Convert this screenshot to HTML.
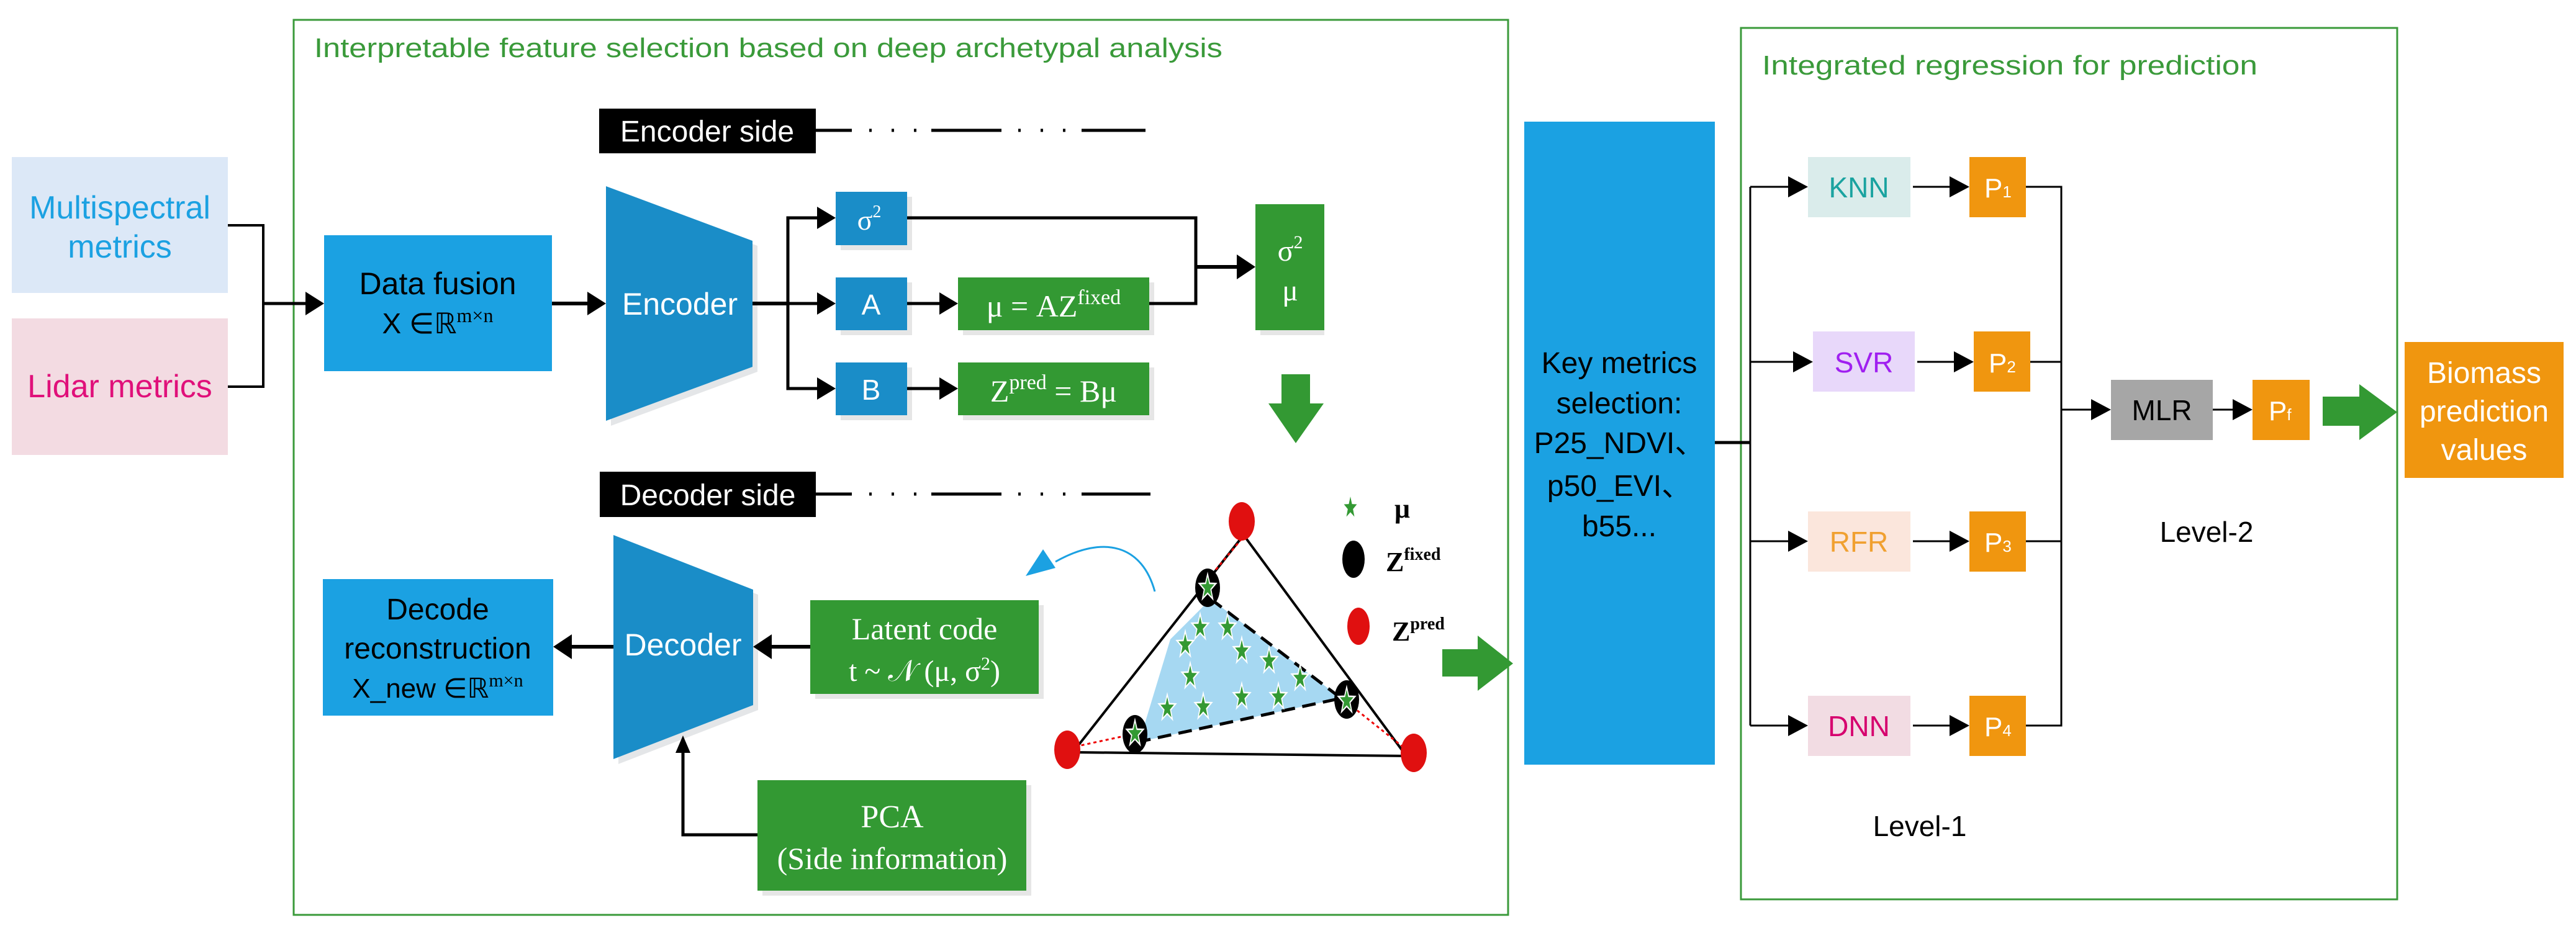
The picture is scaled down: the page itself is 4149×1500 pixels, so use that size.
<!DOCTYPE html>
<html><head><meta charset="utf-8"><style>
html,body{margin:0;padding:0;background:#fff;}
svg{display:block;}
text{font-family:"Liberation Sans","DejaVu Sans",sans-serif;}
.s{font-family:"Liberation Serif",serif;}
</style></head><body>
<svg width="4149" height="1500" viewBox="0 0 4149 1500" xmlns="http://www.w3.org/2000/svg">
<!-- frames -->
<rect x="473" y="32" width="1956" height="1442" fill="none" stroke="#3a9a3a" stroke-width="3"/>
<rect x="2804" y="45" width="1057" height="1404" fill="none" stroke="#3a9a3a" stroke-width="3"/>
<text x="506" y="92" font-size="44" fill="#3a9a3a" textLength="1463" lengthAdjust="spacingAndGlyphs">Interpretable feature selection based on deep archetypal analysis</text>
<text x="2838" y="120" font-size="44" fill="#3a9a3a" textLength="798" lengthAdjust="spacingAndGlyphs">Integrated regression for prediction</text>

<!-- inputs -->
<rect x="19" y="253" width="348" height="219" fill="#dce8f7"/>
<text x="193" y="352" font-size="52" fill="#1ba1e2" text-anchor="middle">Multispectral</text>
<text x="193" y="415" font-size="52" fill="#1ba1e2" text-anchor="middle">metrics</text>
<rect x="19" y="513" width="348" height="220" fill="#f3dbe2"/>
<text x="193" y="640" font-size="52" fill="#e0107a" text-anchor="middle">Lidar metrics</text>
<polyline points="367,363 424,363 424,623 367,623" fill="none" stroke="#000" stroke-width="4"/>
<line x1="424" y1="489" x2="495" y2="489" stroke="#000" stroke-width="5"/>
<polygon points="492,470 522,489 492,508" fill="#000"/>

<!-- data fusion -->
<rect x="522" y="379" width="367" height="219" fill="#1ba1e2"/>
<text x="705" y="474" font-size="50" fill="#000" text-anchor="middle">Data fusion</text>
<text x="705" y="537" font-size="46" fill="#000" text-anchor="middle">X ∈ℝ<tspan font-size="32" dy="-18" class="s">m×n</tspan></text>
<line x1="889" y1="489" x2="950" y2="489" stroke="#000" stroke-width="6"/>
<polygon points="946,470 976,489 946,508" fill="#000"/>

<!-- encoder -->
<polygon points="984,308 1220,396 1220,599 984,686" fill="#e4e6e8"/>
<polygon points="976,300 1212,388 1212,591 976,678" fill="#1a8dc8"/>
<text x="1095" y="507" font-size="50" fill="#fff" text-anchor="middle">Encoder</text>
<line x1="1212" y1="489" x2="1269" y2="489" stroke="#000" stroke-width="6"/>
<polyline points="1320,351 1269,351 1269,626 1320,626" fill="none" stroke="#000" stroke-width="5"/>
<line x1="1269" y1="489" x2="1320" y2="489" stroke="#000" stroke-width="5"/>
<polygon points="1316,333 1346,351 1316,369" fill="#000"/>
<polygon points="1316,471 1346,489 1316,507" fill="#000"/>
<polygon points="1316,608 1346,626 1316,644" fill="#000"/>
<rect x="1354" y="317" width="115" height="86" fill="#e6e6e6"/>
<rect x="1346" y="309" width="115" height="86" fill="#1a8dc8"/>
<text x="1400" y="370" font-size="46" fill="#fff" text-anchor="middle" class="s">σ<tspan font-size="28" dy="-20">2</tspan></text>
<rect x="1354" y="455" width="115" height="85" fill="#e6e6e6"/>
<rect x="1346" y="447" width="115" height="85" fill="#1a8dc8"/>
<text x="1403" y="507" font-size="46" fill="#fff" text-anchor="middle">A</text>
<rect x="1354" y="592" width="115" height="85" fill="#e6e6e6"/>
<rect x="1346" y="584" width="115" height="85" fill="#1a8dc8"/>
<text x="1403" y="644" font-size="46" fill="#fff" text-anchor="middle">B</text>
<line x1="1461" y1="489" x2="1515" y2="489" stroke="#000" stroke-width="5"/>
<polygon points="1513,471 1543,489 1513,507" fill="#000"/>
<line x1="1461" y1="626" x2="1515" y2="626" stroke="#000" stroke-width="5"/>
<polygon points="1513,608 1543,626 1513,644" fill="#000"/>
<rect x="1551" y="455" width="308" height="85" fill="#e6e6e6"/>
<rect x="1543" y="447" width="308" height="85" fill="#339933"/>
<text x="1697" y="510" font-size="50" fill="#fff" text-anchor="middle" class="s">μ = AZ<tspan font-size="34" dy="-20">fixed</tspan></text>
<rect x="1551" y="592" width="308" height="85" fill="#e6e6e6"/>
<rect x="1543" y="584" width="308" height="85" fill="#339933"/>
<text x="1697" y="647" font-size="50" fill="#fff" text-anchor="middle" class="s">Z<tspan font-size="34" dy="-20">pred</tspan><tspan dy="20"> = Bμ</tspan></text>
<polyline points="1461,351 1926,351 1926,489 1851,489" fill="none" stroke="#000" stroke-width="5"/>
<line x1="1926" y1="430" x2="1995" y2="430" stroke="#000" stroke-width="6"/>
<polygon points="1992,410 2022,430 1992,450" fill="#000"/>
<rect x="2030" y="337" width="103" height="203" fill="#e6e6e6"/>
<rect x="2022" y="329" width="111" height="203" fill="#339933"/>
<text x="2078" y="420" font-size="48" fill="#fff" text-anchor="middle" class="s">σ<tspan font-size="30" dy="-20">2</tspan></text>
<text x="2078" y="484" font-size="48" fill="#fff" text-anchor="middle" class="s">μ</text>
<polygon points="2064,603 2110,603 2110,650 2132,650 2087,714 2043,650 2064,650" fill="#339933"/>

<!-- encoder side label -->
<rect x="965" y="175" width="349" height="72" fill="#000"/>
<text x="1139" y="228" font-size="48" fill="#fff" text-anchor="middle">Encoder side</text>
<g stroke="#000" stroke-width="5">
<line x1="1314" y1="210" x2="1372" y2="210"/>
<line x1="1500" y1="210" x2="1613" y2="210"/>
<line x1="1742" y1="210" x2="1845" y2="210"/>
</g>
<g stroke="#000" stroke-width="5" stroke-dasharray="4,32"><line x1="1400" y1="210" x2="1480" y2="210"/><line x1="1640" y1="210" x2="1720" y2="210"/></g>

<!-- decoder side label -->
<rect x="966" y="760" width="348" height="73" fill="#000"/>
<text x="1140" y="814" font-size="48" fill="#fff" text-anchor="middle">Decoder side</text>
<g stroke="#000" stroke-width="5">
<line x1="1314" y1="796" x2="1372" y2="796"/>
<line x1="1500" y1="796" x2="1613" y2="796"/>
<line x1="1742" y1="796" x2="1853" y2="796"/>
</g>
<g stroke="#000" stroke-width="5" stroke-dasharray="4,32"><line x1="1400" y1="796" x2="1480" y2="796"/><line x1="1640" y1="796" x2="1720" y2="796"/></g>

<!-- decoder -->
<polygon points="996,870 1221,958 1221,1144 996,1231" fill="#e4e6e8"/>
<polygon points="988,862 1213,950 1213,1136 988,1223" fill="#1a8dc8"/>
<text x="1100" y="1056" font-size="50" fill="#fff" text-anchor="middle">Decoder</text>
<rect x="520" y="933" width="371" height="220" fill="#1ba1e2"/>
<text x="705" y="998" font-size="48" fill="#000" text-anchor="middle">Decode</text>
<text x="705" y="1061" font-size="48" fill="#000" text-anchor="middle">reconstruction</text>
<text x="705" y="1124" font-size="44" fill="#000" text-anchor="middle">X_new ∈ℝ<tspan font-size="30" dy="-18" class="s">m×n</tspan></text>
<line x1="988" y1="1042" x2="918" y2="1042" stroke="#000" stroke-width="6"/>
<polygon points="921,1022 891,1042 921,1062" fill="#000"/>
<rect x="1313" y="975" width="368" height="151" fill="#e6e6e6"/>
<rect x="1305" y="967" width="368" height="151" fill="#339933"/>
<text x="1489" y="1030" font-size="50" fill="#fff" text-anchor="middle" class="s">Latent code</text>
<text x="1489" y="1097" font-size="48" fill="#fff" text-anchor="middle" class="s">t ~ 𝒩 (μ, σ<tspan font-size="30" dy="-18">2</tspan><tspan dy="18">)</tspan></text>
<line x1="1305" y1="1042" x2="1240" y2="1042" stroke="#000" stroke-width="6"/>
<polygon points="1243,1022 1213,1042 1243,1062" fill="#000"/>
<rect x="1228" y="1265" width="433" height="178" fill="#e6e6e6"/>
<rect x="1220" y="1257" width="433" height="178" fill="#339933"/>
<text x="1437" y="1333" font-size="52" fill="#fff" text-anchor="middle" class="s">PCA</text>
<text x="1437" y="1400" font-size="50" fill="#fff" text-anchor="middle" class="s">(Side information)</text>
<polyline points="1220,1345 1100,1345 1100,1210" fill="none" stroke="#000" stroke-width="5"/>
<polygon points="1088,1213 1100,1185 1112,1213" fill="#000"/>

<!-- triangle -->
<polygon points="1950,965 2160,1125 1835,1195 1885,1030" fill="#a6d8f2"/>
<polyline points="1950,965 2160,1125 1835,1195" fill="none" stroke="#000" stroke-width="5" stroke-dasharray="22,12"/>
<polygon points="2003,862 2265,1218 1728,1212" fill="none" stroke="#000" stroke-width="4"/>
<g stroke="#e00" stroke-width="3" stroke-dasharray="5,5">
<line x1="2000" y1="868" x2="1948" y2="930"/>
<line x1="1722" y1="1205" x2="1815" y2="1185"/>
<line x1="2268" y1="1210" x2="2180" y2="1140"/>
</g>
<ellipse cx="2000" cy="840" rx="21" ry="31" fill="#e01010"/>
<ellipse cx="1719" cy="1208" rx="21" ry="31" fill="#e01010"/>
<ellipse cx="2277" cy="1213" rx="21" ry="31" fill="#e01010"/>
<ellipse cx="1945" cy="947" rx="20" ry="31" fill="#000"/>
<ellipse cx="2169" cy="1127" rx="20" ry="31" fill="#000"/>
<ellipse cx="1828" cy="1183" rx="20" ry="31" fill="#000"/>
<g fill="#339933" stroke="#fff" stroke-width="0.12">
<polygon transform="translate(1945,947) scale(14,22)" points="0,-1 0.235,-0.324 0.951,-0.309 0.38,0.124 0.588,0.809 0,0.4 -0.588,0.809 -0.38,0.124 -0.951,-0.309 -0.235,-0.324"/>
<polygon transform="translate(1933,1011) scale(14,22)" points="0,-1 0.235,-0.324 0.951,-0.309 0.38,0.124 0.588,0.809 0,0.4 -0.588,0.809 -0.38,0.124 -0.951,-0.309 -0.235,-0.324"/>
<polygon transform="translate(1977,1011) scale(14,22)" points="0,-1 0.235,-0.324 0.951,-0.309 0.38,0.124 0.588,0.809 0,0.4 -0.588,0.809 -0.38,0.124 -0.951,-0.309 -0.235,-0.324"/>
<polygon transform="translate(1909,1039) scale(14,22)" points="0,-1 0.235,-0.324 0.951,-0.309 0.38,0.124 0.588,0.809 0,0.4 -0.588,0.809 -0.38,0.124 -0.951,-0.309 -0.235,-0.324"/>
<polygon transform="translate(2000,1049) scale(14,22)" points="0,-1 0.235,-0.324 0.951,-0.309 0.38,0.124 0.588,0.809 0,0.4 -0.588,0.809 -0.38,0.124 -0.951,-0.309 -0.235,-0.324"/>
<polygon transform="translate(2044,1065) scale(14,22)" points="0,-1 0.235,-0.324 0.951,-0.309 0.38,0.124 0.588,0.809 0,0.4 -0.588,0.809 -0.38,0.124 -0.951,-0.309 -0.235,-0.324"/>
<polygon transform="translate(1917,1090) scale(14,22)" points="0,-1 0.235,-0.324 0.951,-0.309 0.38,0.124 0.588,0.809 0,0.4 -0.588,0.809 -0.38,0.124 -0.951,-0.309 -0.235,-0.324"/>
<polygon transform="translate(2094,1093) scale(14,22)" points="0,-1 0.235,-0.324 0.951,-0.309 0.38,0.124 0.588,0.809 0,0.4 -0.588,0.809 -0.38,0.124 -0.951,-0.309 -0.235,-0.324"/>
<polygon transform="translate(2000,1123) scale(14,22)" points="0,-1 0.235,-0.324 0.951,-0.309 0.38,0.124 0.588,0.809 0,0.4 -0.588,0.809 -0.38,0.124 -0.951,-0.309 -0.235,-0.324"/>
<polygon transform="translate(2059,1123) scale(14,22)" points="0,-1 0.235,-0.324 0.951,-0.309 0.38,0.124 0.588,0.809 0,0.4 -0.588,0.809 -0.38,0.124 -0.951,-0.309 -0.235,-0.324"/>
<polygon transform="translate(1880,1141) scale(14,22)" points="0,-1 0.235,-0.324 0.951,-0.309 0.38,0.124 0.588,0.809 0,0.4 -0.588,0.809 -0.38,0.124 -0.951,-0.309 -0.235,-0.324"/>
<polygon transform="translate(1938,1139) scale(14,22)" points="0,-1 0.235,-0.324 0.951,-0.309 0.38,0.124 0.588,0.809 0,0.4 -0.588,0.809 -0.38,0.124 -0.951,-0.309 -0.235,-0.324"/>
<polygon transform="translate(2169,1129) scale(14,22)" points="0,-1 0.235,-0.324 0.951,-0.309 0.38,0.124 0.588,0.809 0,0.4 -0.588,0.809 -0.38,0.124 -0.951,-0.309 -0.235,-0.324"/>
<polygon transform="translate(1828,1182) scale(14,22)" points="0,-1 0.235,-0.324 0.951,-0.309 0.38,0.124 0.588,0.809 0,0.4 -0.588,0.809 -0.38,0.124 -0.951,-0.309 -0.235,-0.324"/>
</g>
<!-- legend -->
<polygon transform="translate(2175,818) scale(11,18)" fill="#339933" points="0,-1 0.235,-0.324 0.951,-0.309 0.38,0.124 0.588,0.809 0,0.4 -0.588,0.809 -0.38,0.124 -0.951,-0.309 -0.235,-0.324"/>
<text x="2246" y="834" font-size="44" fill="#000" class="s" font-weight="bold">μ</text>
<ellipse cx="2180" cy="901" rx="18" ry="30" fill="#000"/>
<text x="2232" y="920" font-size="44" fill="#000" class="s" font-weight="bold">Z<tspan font-size="28" dy="-18">fixed</tspan></text>
<ellipse cx="2188" cy="1009" rx="18" ry="30" fill="#e01010"/>
<text x="2242" y="1032" font-size="44" fill="#000" class="s" font-weight="bold">Z<tspan font-size="28" dy="-18">pred</tspan></text>
<!-- blue curved arrow -->
<path d="M1860,953 C1840,880 1780,860 1700,905" fill="none" stroke="#1ba1e2" stroke-width="3"/>
<polygon points="1652,928 1680,885 1700,915" fill="#1ba1e2"/>
<!-- green right arrow -->
<polygon points="2323,1046 2380,1046 2380,1024 2437,1069 2380,1113 2380,1090 2323,1090" fill="#339933"/>

<!-- key metrics -->
<rect x="2455" y="196" width="307" height="1036" fill="#1ba1e2"/>
<text x="2608" y="601" font-size="48" fill="#000" text-anchor="middle">Key metrics</text>
<text x="2608" y="666" font-size="48" fill="#000" text-anchor="middle">selection:</text>
<text x="2608" y="730" font-size="48" fill="#000" text-anchor="middle">P25_NDVI、</text>
<text x="2608" y="799" font-size="48" fill="#000" text-anchor="middle">p50_EVI、</text>
<text x="2608" y="864" font-size="48" fill="#000" text-anchor="middle">b55...</text>
<line x1="2762" y1="713" x2="2819" y2="713" stroke="#000" stroke-width="5"/>
<line x1="2819" y1="301" x2="2819" y2="1169" stroke="#000" stroke-width="3"/>
<g stroke="#000" stroke-width="3">
<line x1="2819" y1="301" x2="2885" y2="301"/>
<line x1="2819" y1="583" x2="2893" y2="583"/>
<line x1="2819" y1="872" x2="2885" y2="872"/>
<line x1="2819" y1="1169" x2="2885" y2="1169"/>
<line x1="3081" y1="301" x2="3145" y2="301"/>
<line x1="3088" y1="583" x2="3152" y2="583"/>
<line x1="3081" y1="872" x2="3145" y2="872"/>
<line x1="3081" y1="1169" x2="3145" y2="1169"/>
<polyline points="3263,301 3320,301 3320,1169 3263,1169" fill="none"/>
<line x1="3270" y1="583" x2="3320" y2="583"/>
<line x1="3263" y1="872" x2="3320" y2="872"/>
<line x1="3320" y1="660" x2="3375" y2="660"/>
<line x1="3564" y1="660" x2="3603" y2="660"/>
</g>
<g fill="#000">
<polygon points="2880,284 2912,301 2880,318"/>
<polygon points="2888,566 2920,583 2888,600"/>
<polygon points="2880,855 2912,872 2880,889"/>
<polygon points="2880,1152 2912,1169 2880,1186"/>
<polygon points="3140,284 3172,301 3140,318"/>
<polygon points="3147,566 3179,583 3147,600"/>
<polygon points="3140,855 3172,872 3140,889"/>
<polygon points="3140,1152 3172,1169 3140,1186"/>
<polygon points="3368,643 3400,660 3368,677"/>
<polygon points="3596,643 3628,660 3596,677"/>
</g>
<rect x="2912" y="253" width="165" height="97" fill="#daeceb"/>
<text x="2994" y="318" font-size="46" fill="#1aa3a0" text-anchor="middle">KNN</text>
<rect x="2920" y="534" width="164" height="97" fill="#e8d8fa"/>
<text x="3002" y="600" font-size="46" fill="#a020f0" text-anchor="middle">SVR</text>
<rect x="2912" y="824" width="165" height="97" fill="#fbe6dc"/>
<text x="2994" y="889" font-size="46" fill="#f0a030" text-anchor="middle">RFR</text>
<rect x="2912" y="1121" width="165" height="97" fill="#f2dce3"/>
<text x="2994" y="1186" font-size="46" fill="#d6006e" text-anchor="middle">DNN</text>
<g fill="#f0960f">
<rect x="3172" y="253" width="91" height="97"/>
<rect x="3179" y="534" width="91" height="97"/>
<rect x="3172" y="824" width="91" height="97"/>
<rect x="3172" y="1121" width="91" height="97"/>
<rect x="3628" y="612" width="92" height="97"/>
</g>
<g fill="#fff" font-size="44">
<text x="3196" y="318">P<tspan font-size="26">1</tspan></text>
<text x="3203" y="600">P<tspan font-size="26">2</tspan></text>
<text x="3196" y="889">P<tspan font-size="26">3</tspan></text>
<text x="3196" y="1186">P<tspan font-size="26">4</tspan></text>
<text x="3654" y="677">P<tspan font-size="26">f</tspan></text>
</g>
<rect x="3400" y="612" width="164" height="97" fill="#a6a6a6"/>
<text x="3482" y="677" font-size="46" fill="#000" text-anchor="middle">MLR</text>
<polygon points="3741,639 3800,639 3800,619 3861,664 3800,709 3800,686 3741,686" fill="#339933"/>
<rect x="3873" y="551" width="256" height="219" fill="#f0960f"/>
<text x="4001" y="617" font-size="48" fill="#fff" text-anchor="middle">Biomass</text>
<text x="4001" y="679" font-size="48" fill="#fff" text-anchor="middle">prediction</text>
<text x="4001" y="741" font-size="48" fill="#fff" text-anchor="middle">values</text>
<text x="3554" y="873" font-size="46" fill="#000" text-anchor="middle">Level-2</text>
<text x="3092" y="1347" font-size="46" fill="#000" text-anchor="middle">Level-1</text>
</svg>
</body></html>
